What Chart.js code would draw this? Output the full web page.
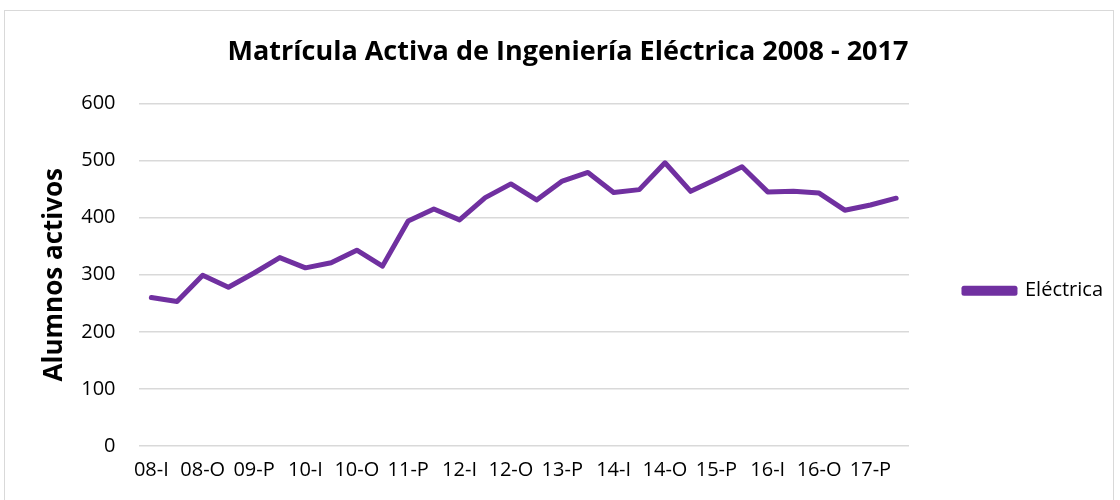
<!DOCTYPE html>
<html>
<head>
<meta charset="utf-8">
<script src="https://cdn.jsdelivr.net/npm/chart.js@4"></script>
<style>
  html, body { margin: 0; padding: 0; background: #fff; }
  #frame {
    position: absolute; left: 4px; top: 10px;
    width: 1110px; height: 500px;
    border: 1px solid #d9d9d9; box-sizing: border-box;
  }
  #wrap { position: absolute; left: 0; top: 0; width: 1108px; height: 489px; }
</style>
</head>
<body>
<div id="frame"><div id="wrap"><canvas id="chart"></canvas></div></div>
<script>
// semestres: I = invierno, P = primavera, O = otoño
var periods = ['08-I', '08-P', '08-O', '09-I', '09-P', '09-O', '10-I', '10-P', '10-O',
    '11-I', '11-P', '11-O', '12-I', '12-P', '12-O', '13-I', '13-P', '13-O',
    '14-I', '14-P', '14-O', '15-I', '15-P', '15-O', '16-I', '16-P', '16-O',
    '17-I', '17-P', '17-O'];
var electrica = [260, 253, 299, 278, 303, 330, 312, 321, 343, 315,
    394, 415, 396, 435, 459, 431, 464, 479, 444, 449,
    496, 446, 467, 489, 445, 446, 443, 413, 422, 434];
var yTicks = [0, 100, 200, 300, 400, 500, 600];

var purple = '#7030a0';
var font = 'Open Sans';

document.addEventListener('DOMContentLoaded', function () {
    var ctx = document.getElementById('chart').getContext('2d');
    new Chart(ctx, {
        type: 'line',
        data: {
            labels: periods,
            datasets: [{
                label: 'Eléctrica',
                data: electrica,
                borderColor: purple,
                backgroundColor: purple,
                borderWidth: 5,
                pointRadius: 0,
                tension: 0,
                borderJoinStyle: 'round',
                borderCapStyle: 'round'
            }]
        },
        options: {
            responsive: true,
            maintainAspectRatio: false,
            animation: false,
            layout: { padding: { left: 18, right: 0, top: 0, bottom: 6 } },
            plugins: {
                title: {
                    display: true,
                    text: 'Matrícula Activa de Ingeniería Eléctrica 2008 - 2017',
                    color: '#000',
                    font: { family: font, size: 27, weight: 'bold' },
                    padding: { top: 25, bottom: 35 }
                },
                legend: {
                    position: 'right',
                    // empty title only pushes the entry down to line up with the reference
                    title: {
                        display: true,
                        text: ' ',
                        font: { family: font, size: 12 },
                        padding: { top: 0, bottom: 62 }
                    },
                    labels: {
                        color: '#000',
                        font: { family: font, size: 20 },
                        boxWidth: 51,
                        boxHeight: 5,
                        padding: 55
                    }
                },
                tooltip: { enabled: false }
            },
            scales: {
                x: {
                    offset: true,
                    grid: { display: false, drawTicks: false },
                    border: { display: false },
                    ticks: {
                        autoSkip: false,
                        maxRotation: 0,
                        color: '#000',
                        padding: 12,
                        font: { family: font, size: 20 },
                        callback: function (v, i) { return i % 2 === 0 ? periods[i] : ''; }
                    }
                },
                y: {
                    min: yTicks[0],
                    max: yTicks[yTicks.length - 1],
                    afterBuildTicks: function (axis) {
                        axis.ticks = yTicks.map(function (v) { return { value: v }; });
                    },
                    grid: { color: '#d9d9d9', lineWidth: 1.5, drawTicks: false },
                    border: { display: false },
                    ticks: {
                        color: '#000',
                        padding: 23,
                        font: { family: font, size: 20 }
                    },
                    title: {
                        display: true,
                        text: 'Alumnos activos',
                        color: '#000',
                        font: { family: font, size: 26, weight: 'bold' },
                        padding: { top: 16, bottom: -12 }
                    }
                }
            }
        }
    });
});
</script>
</body>
</html>
